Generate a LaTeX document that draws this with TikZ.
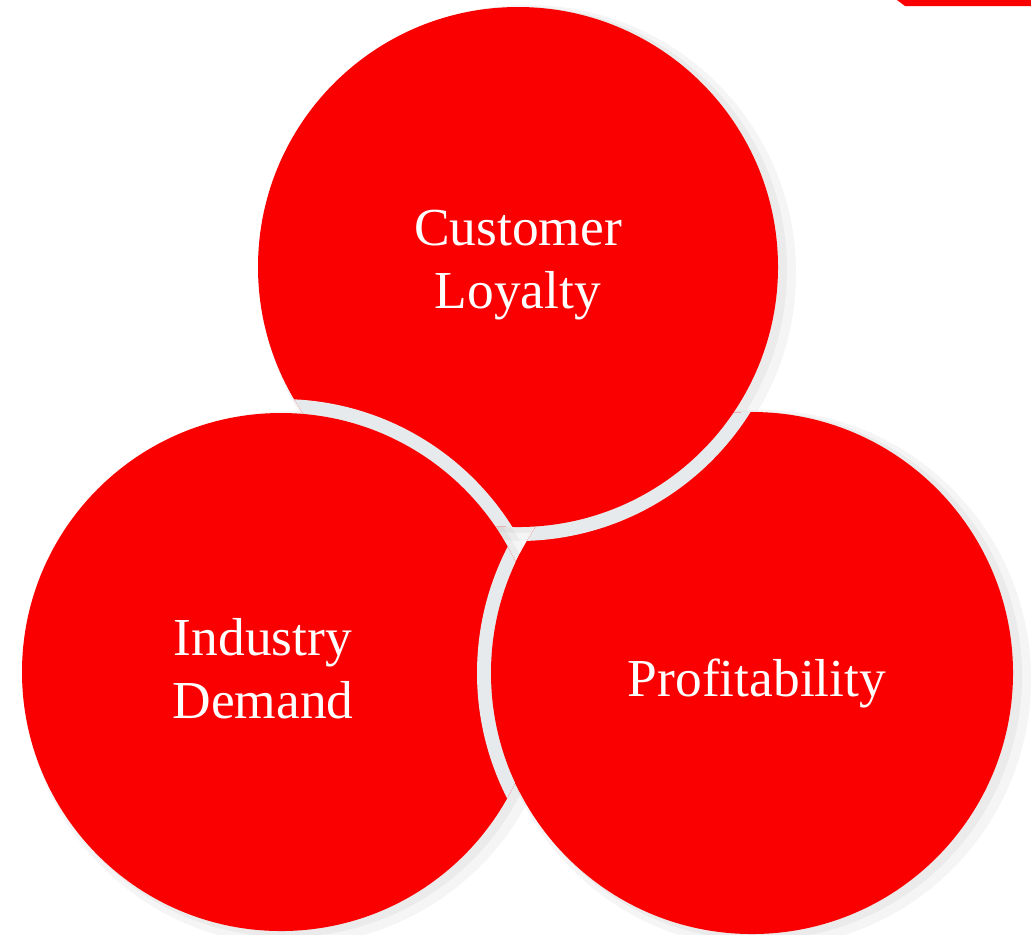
\documentclass[tikz,border=0pt]{standalone}
\usepackage{fontspec}
\setmainfont{Liberation Serif}
\usetikzlibrary{calc}

\definecolor{discred}{RGB}{250,0,0}
\definecolor{gapgrey}{RGB}{230,234,236}

\tikzset{
  gap/.style={fill=gapgrey},
  disc/.style={fill=discred},
  halo/.style={fill=black, opacity=0.04},
  word/.style={text=white, align=center, font=\fontsize{15.2}{17.9}\selectfont},
}

\begin{document}
\begin{tikzpicture}
  \useasboundingbox (0,0) rectangle (10.31,-9.34);
  \coordinate (loyal) at (5.18,-2.67);
  \coordinate (demand) at (2.81,-6.72);
  \coordinate (profit) at (7.52,-6.73);

  % soft shadows
  \foreach \c/\r in {loyal/2.60, demand/2.59, profit/2.61}{
    \fill[halo] ($(\c)+(0.10,-0.06)$) circle ({\r+0.08});
    \fill[halo] ($(\c)+(0.06,-0.03)$) circle ({\r+0.03});
  }

  \fill[disc] (profit) circle (2.61);
  % loyal over profit
  \begin{scope}
    \clip (profit) circle (2.61);
    \fill[gap] (loyal) circle (2.74);
  \end{scope}
  \fill[disc] (loyal) circle (2.60);
  % demand over loyal
  \begin{scope}
    \clip (loyal) circle (2.60);
    \fill[gap] (demand) circle (2.73);
  \end{scope}
  \fill[disc] (demand) circle (2.59);
  % profit over demand
  \begin{scope}
    \clip (demand) circle (2.59);
    \fill[gap] (profit) circle (2.75);
  \end{scope}
  \begin{scope}
    \clip (demand) circle (2.67);
    \fill[disc] (profit) circle (2.61);
  \end{scope}

  \fill[discred] (8.97,0) -- (10.31,0) -- (10.31,-0.06) -- (9.05,-0.06) -- cycle;

  \node[word] (cl) at (5.18,-2.65) {Customer\\Loyalty};
  \node[word] (id) at (2.63,-6.69) {Industry\\Demand};
  \node[word] (pf) at (7.57,-6.83) {Profitability};
\end{tikzpicture}
\end{document}
